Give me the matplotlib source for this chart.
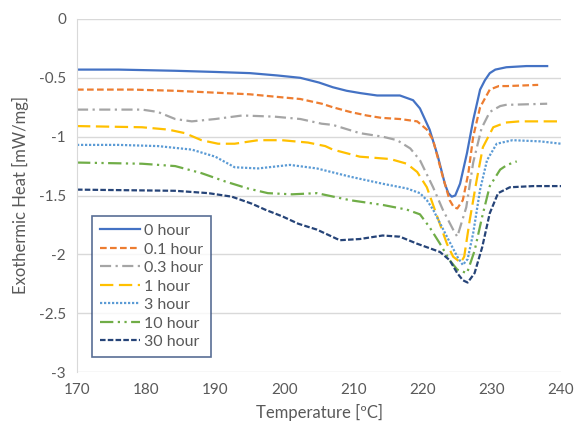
import numpy as np
from matplotlib import pyplot as plt

plt.rcParams['font.family'] = ['Lato', 'DejaVu Sans']

#-------------------------------------------------------------------------------
# data
#-------------------------------------------------------------------------------

labels = ['0 hour', '0.1 hour', '0.3 hour', '1 hour', '3 hour', '10 hour', '30 hour']

t_0h = [170, 176, 184.2, 190, 195, 199, 202.3, 205, 207, 209, 211, 213.4, 216.7,
        218.6, 219.6, 221, 222.2, 223.2, 223.7, 224.2, 224.7, 225.4, 226.4,
        227.3, 228.3, 229, 229.7, 230.5, 232.1, 235, 238]
h_0h = [-0.43, -0.43, -0.44, -0.45, -0.46, -0.48, -0.50, -0.54, -0.58, -0.61,
        -0.63, -0.65, -0.65, -0.69, -0.76, -0.94, -1.17, -1.40, -1.48, -1.51,
        -1.50, -1.40, -1.14, -0.86, -0.60, -0.52, -0.46, -0.43, -0.41, -0.40,
        -0.40]

t_01h = [170, 178, 184.2, 191.4, 195, 198.6, 202.3, 205.4, 207, 209.5, 211.9,
         214, 216.7, 219.2, 220.6, 221.5, 222.9, 223.9, 224.5, 225, 225.8,
         226.6, 227.3, 228.3, 229.7, 231, 232.2, 236.7]
h_01h = [-0.60, -0.60, -0.61, -0.63, -0.64, -0.66, -0.68, -0.72, -0.75, -0.79,
         -0.82, -0.84, -0.85, -0.87, -0.94, -1.03, -1.34, -1.54, -1.60, -1.61,
         -1.54, -1.31, -1.00, -0.75, -0.60, -0.57, -0.57, -0.56]

t_03h = [170, 179.4, 181.7, 184.2, 186.6, 190, 193.9, 198.6, 202.3, 205.4, 207,
         210.9, 214.2, 216.3, 218.2, 219.6, 221.5, 222.9, 224.4, 225, 226.3,
         227.3, 228.5, 229.7, 231.2, 232, 238]
h_03h = [-0.77, -0.77, -0.79, -0.85, -0.87, -0.85, -0.82, -0.83, -0.85, -0.89,
         -0.90, -0.97, -1.00, -1.03, -1.10, -1.20, -1.43, -1.62, -1.79, -1.85,
         -1.60, -1.22, -0.93, -0.79, -0.74, -0.73, -0.72]

t_1h = [170, 179.4, 183.2, 185.6, 188, 190.4, 192.8, 196.2, 199.6, 203.4, 205.9,
        207, 210.9, 215.3, 217.7, 219.2, 220.6, 221.5, 223.5, 224.4, 225.5, 226,
        226.8, 227.8, 228.7, 230.2, 232, 234, 240]
h_1h = [-0.91, -0.92, -0.94, -0.97, -1.03, -1.06, -1.06, -1.03, -1.03, -1.05,
        -1.08, -1.11, -1.17, -1.19, -1.23, -1.30, -1.43, -1.58, -1.91, -2.02,
        -2.07, -2.02, -1.71, -1.37, -1.09, -0.92, -0.88, -0.87, -0.87]

t_3h = [170, 176, 181.7, 186.6, 190, 192.8, 196.2, 200.8, 204.7, 209.5, 214.2,
        217.7, 219.6, 220.6, 221.5, 223.5, 225, 225.8, 226.5, 227.3, 228.3,
        229.3, 230.7, 233, 237, 240]
h_3h = [-1.07, -1.07, -1.08, -1.11, -1.17, -1.26, -1.27, -1.24, -1.27, -1.34,
        -1.40, -1.44, -1.48, -1.54, -1.62, -1.85, -2.02, -2.09, -2.04, -1.82,
        -1.45, -1.20, -1.06, -1.03, -1.04, -1.06]

t_10h = [170, 179.4, 184.2, 188, 191.4, 194.7, 197.6, 201.1, 204.7, 209.5,
         214.2, 217.7, 219.6, 221, 222.5, 223.9, 225, 226.4, 227.5, 228.6,
         229.7, 231.2, 232.2, 233.6]
h_10h = [-1.22, -1.23, -1.25, -1.31, -1.38, -1.44, -1.48, -1.49, -1.48, -1.54,
         -1.58, -1.62, -1.66, -1.77, -1.91, -2.05, -2.13, -2.16, -1.97, -1.68,
         -1.42, -1.28, -1.24, -1.21]

t_30h = [170, 184.2, 189, 192.4, 195.3, 197.2, 199.8, 202, 204.7, 208, 210.9,
         214.2, 216.7, 219.2, 221.1, 222.5, 223.9, 225, 225.8, 226.5, 227.5,
         228.6, 229.7, 230.9, 232.6, 236, 240]
h_30h = [-1.45, -1.46, -1.48, -1.51, -1.57, -1.62, -1.68, -1.74, -1.79, -1.88,
         -1.87, -1.84, -1.85, -1.91, -1.95, -1.98, -2.05, -2.16, -2.22, -2.24,
         -2.16, -1.94, -1.65, -1.48, -1.43, -1.42, -1.42]

temps = [t_0h, t_01h, t_03h, t_1h, t_3h, t_10h, t_30h]
heats = [h_0h, h_01h, h_03h, h_1h, h_3h, h_10h, h_30h]

#-------------------------------------------------------------------------------
# styles
#-------------------------------------------------------------------------------

colors = ['#4472C4', '#ED7D31', '#A5A5A5', '#FFC000', '#5B9BD5', '#70AD47', '#264478']
dashes = [None, (3, 1.5), (5, 2, 1, 2), (6, 2.5), (1, 0.8), (6, 2, 1, 2, 1, 2), (2.5, 1)]

fig = plt.figure(figsize=(5.75, 4.25), dpi=100)
ax = fig.add_axes([77/575, 1 - 372/425, (561-77)/575, (372-19)/425])

for t, h, c, d, lab in zip(temps, heats, colors, dashes, labels):
  line, = ax.plot(t, h, color=c, lw=1.6, label=lab, solid_joinstyle='round',
                  dash_joinstyle='round')
  if d is not None:
    line.set_dashes(d)

ax.set_xlim(170, 240)
ax.set_ylim(-3, 0)
ax.set_xticks(np.arange(170, 241, 10))
ax.set_yticks(np.arange(-3, 0.01, 0.5))
ax.set_yticklabels(['-3', '-2.5', '-2', '-1.5', '-1', '-0.5', '0'])
ax.yaxis.grid(True, color='#D9D9D9', lw=1)
ax.set_axisbelow(True)
for s in ['top', 'right', 'bottom']:
  ax.spines[s].set_visible(False)
ax.spines['left'].set_color('#D9D9D9')
ax.tick_params(length=0, labelsize=11, colors='#595959', pad=8)

ax.set_xlabel('Temperature [ºC]', fontsize=12, color='#595959', labelpad=5)
ax.set_ylabel('Exothermic Heat [mW/mg]', fontsize=12, color='#595959', labelpad=7)

leg = ax.legend(loc='lower left', bbox_to_anchor=(15/484, 15/353), fontsize=11.5,
                frameon=True, fancybox=False, handlelength=2.5, handletextpad=0.25,
                labelspacing=0.27, borderpad=0.5, borderaxespad=0)
leg.get_frame().set_edgecolor('#2F4A7A')
leg.get_frame().set_linewidth(1.2)
for txt in leg.get_texts():
  txt.set_color('#595959')

fig.savefig('out.png', dpi=100)
